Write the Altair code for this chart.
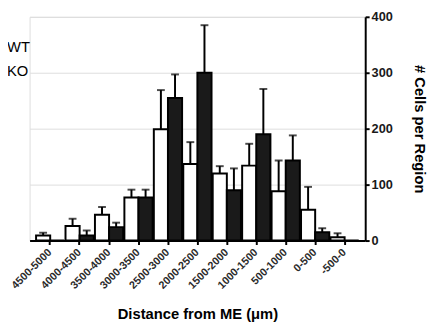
import altair as alt
import pandas as pd

categories = ["4500-5000", "4000-4500", "3500-4000", "3000-3500", "2500-3000",
              "2000-2500", "1500-2000", "1000-1500", "500-1000", "0-500", "-500-0"]
series = ["WT", "KO"]
wt_mean = [9, 26, 46, 77, 199, 137, 120, 134, 88, 55, 6]
wt_err = [5, 13, 14, 14, 70, 39, 13, 39, 55, 41, 7]
ko_mean = [0, 9, 24, 77, 255, 300, 90, 190, 143, 15, 0]
ko_err = [0, 9, 8, 14, 42, 85, 39, 81, 45, 7, 0]

rows = []
for i, c in enumerate(categories):
    rows.append({"region": c, "genotype": "WT", "cells": wt_mean[i], "err": wt_err[i]})
    rows.append({"region": c, "genotype": "KO", "cells": ko_mean[i], "err": ko_err[i]})
df = pd.DataFrame(rows)

FONT = "Liberation Sans"

x = alt.X(
    "region:N", sort=categories,
    scale=alt.Scale(paddingInner=0.04, paddingOuter=0.22),
    axis=alt.Axis(
        title="Distance from ME (μm)", labelAngle=-45, labelAlign="right",
        labelBaseline="middle", labelFontSize=11,
        labelFontWeight="bold", labelColor="#2a2a2a", labelPadding=6,
        tickSize=4, tickWidth=2, tickColor="black", domainWidth=2,
        domainColor="black", titleFontSize=15, titleFontWeight="bold",
        titleColor="black", titleY=79, titleBaseline="alphabetic",
    ),
)
xo = alt.XOffset("genotype:N", sort=series,
                 scale=alt.Scale(paddingInner=0, paddingOuter=0))
y_axis = alt.Axis(
    orient="right", values=[0, 100, 200, 300, 400], title="# Cells per Region",
    labelFontSize=13, labelFontWeight="bold", labelColor="#1a1a1a",
    labelPadding=2, tickSize=4, tickWidth=2, tickColor="black",
    domainWidth=2, domainColor="black", titleFontSize=15,
    titleFontWeight="bold", titleColor="black", titleAngle=90,
    titleX=55, titleY=114, titleBaseline="middle", titleAlign="center",
)
y = alt.Y("cells:Q", stack=None, scale=alt.Scale(domain=[0, 400], nice=False),
          axis=y_axis)

base = alt.Chart(df)
bars = base.mark_bar(stroke="black", strokeWidth=2).encode(
    x=x, xOffset=xo, y=y,
    fill=alt.Fill(
        "genotype:N", sort=series,
        scale=alt.Scale(domain=series, range=["#ffffff", "#1a1a1a"]),
        legend=alt.Legend(
            title=None, orient="none", legendX=-38, legendY=23,
            symbolSize=0, symbolOpacity=0, symbolStrokeWidth=0,
            labelFontSize=15, labelFont=FONT, labelColor="black",
            rowPadding=9, labelOffset=0, padding=0,
        ),
    ),
)
err = base.transform_filter("datum.err > 0").transform_calculate(
    upper="datum.cells + datum.err")
rules = err.mark_rule(color="black", strokeWidth=2).encode(
    x=x, xOffset=xo, y=alt.Y("cells:Q"), y2="upper:Q")
caps = err.mark_tick(color="black", thickness=2, size=8, orient="horizontal").encode(
    x=x, xOffset=xo, y=alt.Y("upper:Q"))

chart = alt.layer(bars, rules, caps).properties(
    width=342, height=228,
    padding={"left": 22, "top": 6, "right": 65, "bottom": 80},
    autosize=alt.AutoSizeParams(type="none"),
).configure_view(stroke=None).configure_axis(grid=False).configure(font=FONT)

chart.save("out.html", embed_options={"renderer": "svg", "actions": False})
